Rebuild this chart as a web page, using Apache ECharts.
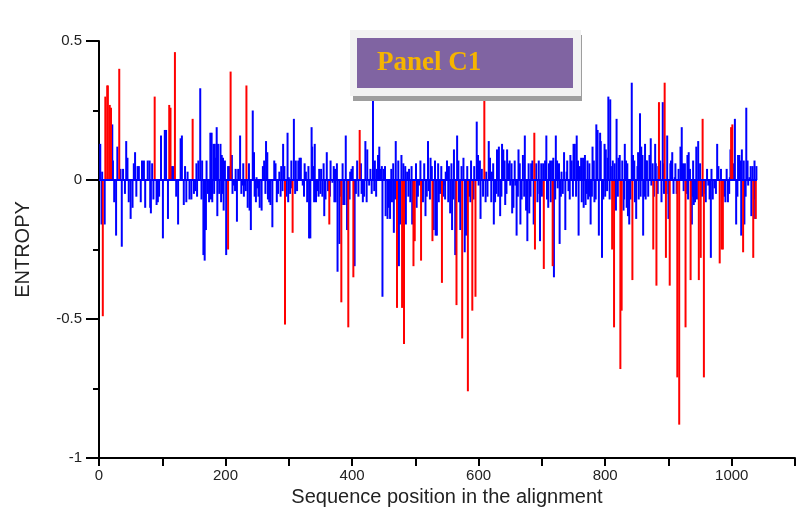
<!DOCTYPE html>
<html>
<head>
<meta charset="utf-8">
<script src="https://cdn.jsdelivr.net/npm/echarts@6/dist/echarts.min.js"></script>
<style>
  html, body { margin: 0; padding: 0; background: #ffffff; }
  #chart { width: 798px; height: 514px; }
</style>
</head>
<body>
<div id="chart"></div>
<script>
// Per-position entropy of the alignment: blue = ordinary sites, red = highlighted sites
const BLUE_POS = [2,4,5,9,21,22,24,27,29,34,36,38,41,43,45,47,50,57,61,66,68,71,73,77,80,81,82,91,93,98,101,104,106,109,117,125,129,131,134,138,140,143,146,152,157,160,162,163,165,167,
  169,170,172,174,176,177,178,179,181,182,183,185,186,187,188,190,192,193,194,195,196,197,199,201,204,209,210,213,215,218,220,223,226,228,229,230,235,238,240,243,245,246,248,249,250,252,254,257,261,264,266,267,269,271,274,277,281,285,288,291,298,299,300,304,305,308,311,315,317,319,322,324,327,329,332,334,336,337,340,341,343,345,
  348,351,353,356,360,362,366,369,372,373,374,377,380,386,390,392,397,399,404,408,415,417,419,421,424,427,429,433,436,439,441,443,445,448,450,453,456,460,463,466,469,474,476,478,485,487,490,492,495,502,506,512,516,520,
  521,524,529,532,534,537,545,548,550,553,555,558,561,563,566,569,571,576,578,580,585,597,600,603,605,611,612,616,618,621,624,626,629,632,634,637,639,642,645,647,650,653,655,658,660,663,666,670,673,675,677,680,683,685,687,
  695,696,697,700,705,707,708,710,713,716,719,722,725,728,731,735,737,739,742,745,747,750,752,755,758,760,763,766,768,769,771,773,777,780,783,786,788,790,792,793,795,799,801,803,805,808,809,817,818,821,829,831,834,836,838,842,844,847,849,851,852,855,857,860,863,865,
  864,866,870,872,873,879,883,887,891,893,898,900,904,906,910,913,919,921,923,926,930,932,937,939,940,942,944,947,959,963,967,970,973,977,990,994,997,998,1005,1007,1010,1012,1015,1016,1020,1023,1026,1028,1031,1036,1037,
  // low-amplitude sites
  53,55,59,63,84,86,95,115,122,136,150,154,155,206,211,216,225,232,237,259,263,279,283,287,290,293,296,302,310,313,325,331,339,347,350,355,358,365,371,376,382,385,388,396,401,406,410,414,423,431,435,438,447,452,458,462,465,468,473,481,484,489,494,501,504,508,511,514,518,
  523,526,531,536,539,541,544,547,552,557,560,568,573,582,587,588,592,593,599,602,607,614,620,623,628,631,636,641,644,649,652,657,662,665,668,672,679,682,691,693,699,702,711,714,718,721,724,727,730,733,740,744,749,754,757,762,765,772,775,776,779,782,785,797,800,804,807,812,815,820,823,827,830,833,835,840,846,853,856,859,862,
  868,875,877,880,884,889,892,897,903,908,911,916,924,929,931,934,938,945,950,953,957,961,965,968,975,979,983,988,992,996,1003,1009,1014,1019,1022,1025,1030,1033,1035,1039];
const BLUE_VAL = [0.13,-0.16,0.03,-0.16,0.20,0.07,-0.08,-0.20,0.12,0.04,-0.24,0.04,-0.05,0.14,0.08,-0.08,-0.14,0.10,0.05,-0.08,0.07,0.07,-0.10,0.07,0.07,-0.10,-0.12,-0.09,-0.08,0.16,-0.21,0.18,0.18,-0.14,0.05,-0.16,0.15,0.16,-0.09,-0.08,0.03,-0.07,-0.07,-0.04,0.07,0.33,-0.07,0.07,-0.27,-0.29,
  -0.18,0.07,-0.05,-0.08,0.17,-0.07,0.17,-0.08,0.13,-0.05,0.13,0.08,0.19,-0.13,0.13,-0.05,0.13,-0.08,0.09,-0.05,0.08,-0.11,0.07,-0.27,0.05,0.02,0.09,-0.02,-0.04,-0.15,0.04,0.16,-0.02,0.06,-0.06,-0.02,-0.10,-0.11,-0.18,0.25,0.10,-0.06,-0.08,0.01,-0.03,-0.06,-0.10,-0.11,0.07,0.14,0.10,-0.07,-0.08,-0.09,-0.17,0.07,-0.08,0.03,0.05,0.13,0.17,-0.08,0.01,0.07,-0.03,0.22,0.07,0.07,0.08,0.08,-0.02,-0.06,0.03,-0.08,-0.21,-0.21,0.19,0.12,-0.08,0.13,-0.08,-0.04,
  0.04,0.04,-0.06,-0.13,0.10,-0.04,0.07,-0.01,-0.08,0.04,-0.08,-0.33,-0.23,-0.09,0.16,-0.18,0.03,0.04,-0.31,0.07,-0.05,-0.08,-0.06,0.14,0.11,-0.02,0.04,0.33,0.07,0.04,0.09,0.12,0.04,-0.42,0.04,-0.13,-0.14,-0.14,-0.08,-0.19,0.14,-0.31,-0.16,0.09,-0.16,0.03,0.04,-0.08,-0.16,-0.10,-0.02,-0.08,-0.13,0.14,
  -0.04,0.08,-0.18,-0.20,-0.20,-0.08,-0.02,0.03,0.07,0.05,-0.12,-0.18,0.11,-0.27,0.16,-0.08,-0.18,0.08,-0.26,-0.20,-0.06,0.21,-0.02,-0.14,0.04,-0.08,0.03,0.14,0.08,0.03,-0.16,-0.08,0.11,0.12,-0.13,0.13,0.11,-0.09,0.11,0.06,-0.02,-0.12,-0.10,-0.02,-0.20,0.11,-0.16,0.09,0.16,-0.11,-0.22,-0.12,0.06,0.07,-0.16,
  0.07,-0.05,-0.22,-0.06,0.07,0.16,-0.07,-0.10,0.07,0.07,-0.35,0.16,-0.03,-0.23,0.03,0.10,-0.18,0.03,-0.04,0.09,0.07,0.13,0.13,0.16,-0.20,0.05,-0.08,-0.10,0.09,-0.09,-0.05,-0.07,-0.16,0.12,-0.08,0.20,0.18,-0.20,0.17,0.14,-0.28,0.13,0.11,-0.04,0.30,0.29,0.05,-0.11,0.22,0.08,-0.11,0.13,-0.10,-0.13,-0.16,0.35,0.09,-0.08,-0.14,0.05,0.10,0.24,0.12,-0.20,0.13,0.07,
  -0.07,0.07,0.09,0.15,-0.02,0.13,-0.05,0.07,0.28,-0.05,0.16,-0.14,0.07,0.10,0.01,-0.05,0.12,0.19,0.06,0.06,0.09,0.10,-0.16,0.07,-0.09,-0.08,0.12,0.14,-0.08,-0.02,-0.28,-0.07,-0.03,0.13,-0.08,-0.08,0.01,0.11,0.22,-0.16,0.09,0.09,-0.20,0.11,-0.16,0.26,-0.02,0.01,-0.13,0.07,-0.14,
  // low-amplitude sites
  -0.10,0.06,-0.06,0.05,0.06,-0.07,-0.06,0.05,-0.06,0.05,-0.05,0.06,-0.06,0.05,-0.05,0.04,-0.05,-0.04,0.06,0.05,-0.05,0.06,-0.05,-0.06,-0.04,0.05,-0.06,-0.05,-0.05,-0.04,0.06,0.05,0.05,-0.06,-0.05,0.06,-0.07,-0.06,0.05,0.06,-0.06,0.06,-0.09,-0.07,0.05,-0.05,-0.06,0.06,-0.08,-0.05,-0.04,-0.06,0.05,0.05,-0.10,0.04,0.06,-0.07,0.07,0.06,0.05,-0.06,0.05,0.06,-0.06,0.07,-0.05,0.06,-0.06,
  -0.07,0.05,0.07,0.06,-0.05,0.05,-0.06,-0.07,-0.08,0.06,-0.07,0.07,0.05,0.05,-0.08,0.07,-0.07,0.05,0.09,0.07,-0.06,-0.06,-0.08,0.06,-0.05,-0.06,-0.06,0.07,-0.05,0.07,0.06,0.07,-0.06,0.06,-0.07,-0.06,0.06,-0.06,0.06,-0.08,0.06,0.06,0.06,-0.08,0.08,-0.07,0.07,0.06,-0.06,-0.05,0.07,-0.07,-0.06,-0.06,0.07,0.08,0.08,0.07,0.06,-0.06,-0.06,0.07,-0.07,-0.07,-0.06,0.08,-0.07,0.07,0.06,-0.06,0.09,0.07,-0.07,0.07,0.06,-0.07,0.07,-0.07,-0.06,0.09,-0.06,
  -0.06,0.06,-0.06,0.06,0.05,-0.08,0.06,-0.05,0.06,-0.05,0.06,0.04,-0.04,-0.05,-0.07,0.04,-0.06,-0.07,0.06,-0.06,-0.05,0.04,-0.07,0.04,-0.05,0.05,0.04,-0.06,0.04,-0.05,0.06,-0.06,0.07,0.07,-0.06,0.07,0.05,0.05,-0.07,0.05];

const RED_POS = [6,10,13,14,17,19,32,88,111,113,120,148,
  204,208,233,294,306,
  364,383,394,402,412,471,479,482,497,499,509,
  527,542,565,574,583,590,595,609,688,689,
  703,717,811,814,824,826,843,
  876,881,885,894,896,902,914,917,927,935,948,951,954,956,981,984,986,999,1001,1018,1034,1038];
const RED_VAL = [-0.49,0.30,0.34,0.34,0.27,0.26,0.40,0.30,0.27,0.26,0.46,0.22,
  -0.25,0.39,0.34,-0.52,-0.19,
  -0.16,-0.44,-0.53,-0.35,0.18,-0.46,-0.46,-0.59,-0.31,-0.22,-0.29,
  -0.22,-0.37,-0.45,-0.57,-0.76,-0.47,-0.42,0.36,0.17,-0.25,
  -0.32,-0.31,-0.25,-0.53,-0.68,-0.47,-0.36,
  -0.25,-0.38,0.28,0.35,-0.28,-0.38,-0.71,-0.88,-0.53,-0.36,-0.36,-0.28,0.22,-0.71,-0.30,-0.25,-0.25,0.19,0.20,-0.26,-0.28,-0.14];

// zero line drawn under the sites
const BASELINE = [0, 1040];

const X_TICK_LABELS = [0, 200, 400, 600, 800, 1000];
const Y_TICK_LABELS = [-1, -0.5, 0, 0.5];

const pairs = (xs, ys) => xs.map((x, i) => [x, ys[i]]);

const chart = echarts.init(document.getElementById('chart'), null, { renderer: 'canvas' });
const labelFont = { fontFamily: 'Arial, "Liberation Sans", sans-serif', fontSize: 15, color: '#222' };

chart.setOption({
  animation: false,
  backgroundColor: '#ffffff',
  grid: { left: 99, right: 1, top: 41, bottom: 56, containLabel: false },
  xAxis: {
    type: 'value', min: 0, max: 1100, interval: 100,
    name: 'Sequence position in the alignment',
    nameLocation: 'middle', nameGap: 27,
    nameTextStyle: { fontFamily: 'Arial, "Liberation Sans", sans-serif', fontSize: 20, color: '#222' },
    axisLine: { show: true, onZero: false, lineStyle: { color: '#000', width: 2 } },
    axisTick: { show: true, inside: false, length: 8, lineStyle: { color: '#000', width: 2 } },
    axisLabel: Object.assign({ margin: 10, formatter: v => X_TICK_LABELS.includes(v) ? String(v) : '' }, labelFont),
    splitLine: { show: false }
  },
  yAxis: {
    type: 'value', min: -1, max: 0.5, interval: 0.5,
    name: 'ENTROPY', nameLocation: 'middle', nameGap: 66, nameRotate: 90,
    nameTextStyle: { fontFamily: 'Arial, "Liberation Sans", sans-serif', fontSize: 20, color: '#222' },
    axisLine: { show: true, onZero: false, lineStyle: { color: '#000', width: 2 } },
    axisTick: { show: true, inside: false, length: 13, lineStyle: { color: '#000', width: 2 } },
    minorTick: { show: true, splitNumber: 2, length: 6, lineStyle: { color: '#000', width: 2 } },
    axisLabel: Object.assign({ margin: 17, formatter: v => Y_TICK_LABELS.some(t => Math.abs(t - v) < 1e-9) ? String(v) : '' }, labelFont),
    splitLine: { show: false }
  },
  series: [
    {
      name: 'sites', type: 'bar', barWidth: 2, barGap: '-100%',
      itemStyle: { color: '#0000ff' },
      data: pairs(BLUE_POS, BLUE_VAL),
      markLine: {
        silent: true, symbol: 'none', label: { show: false },
        lineStyle: { color: '#0000ff', width: 2, type: 'solid' },
        data: [[{ coord: [BASELINE[0], 0] }, { coord: [BASELINE[1], 0] }]]
      }
    },
    {
      name: 'highlighted', type: 'bar', barWidth: 2, barGap: '-100%',
      itemStyle: { color: '#ff0000' },
      data: pairs(RED_POS, RED_VAL)
    }
  ],
  graphic: [
    { type: 'rect', z: 100, shape: { x: 353, y: 35, width: 229, height: 66 }, style: { fill: '#9e9e9e' } },
    { type: 'rect', z: 101, shape: { x: 350, y: 30, width: 231, height: 66 }, style: { fill: '#f2f2f2' } },
    { type: 'rect', z: 102, shape: { x: 357, y: 38, width: 216, height: 50 }, style: { fill: '#8064a2' } },
    { type: 'text', z: 103, style: { text: 'Panel C1', x: 377, y: 63, verticalAlign: 'middle',
      font: 'bold 27px "Liberation Serif", "Times New Roman", serif', fill: '#f5b400' } }
  ]
});
</script>
</body>
</html>
